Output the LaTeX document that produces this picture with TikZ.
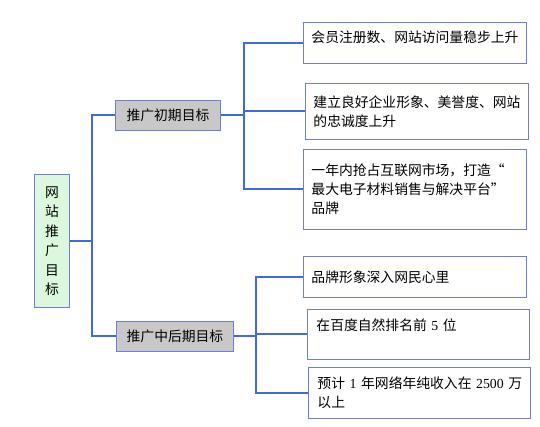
\documentclass[tikz,border=0pt]{standalone}
\usepackage{fontspec}
\setmainfont{Noto Sans CJK SC}
\newfontfamily\numfont{Liberation Serif}
\definecolor{linkblue}{RGB}{65,105,225}
\definecolor{boxline}{RGB}{110,125,225}
\definecolor{rootfill}{RGB}{219,247,221}
\definecolor{midfill}{RGB}{200,200,200}

\begin{document}
\begin{tikzpicture}[x = 1pt, y = -1pt,
	box/.style = {draw = boxline, line width = 0.9pt, anchor = north west, inner sep = 0pt},
	leaf/.style = {box, inner xsep = 8pt, align = left, text width = 207pt,
		font = {\fontsize{13.8}{19}\selectfont}},
	mid/.style = {box, fill = midfill, minimum height = 30pt,
		font = {\fontsize{13.8}{16}\selectfont}},
	link/.style = {draw = linkblue, line width = 2pt}]

	\useasboundingbox (0, 0) rectangle (540, 426);

	% Root and the two stages

	\node [box, fill = rootfill, minimum width = 35pt, minimum height = 133pt, align = center,
		font = {\fontsize{13.8}{19.5}\selectfont}] (root) at (34, 174) {网\\站\\推\\广\\目\\标};

	\node [mid, minimum width = 105pt] (early) at (115, 100) {推广初期目标};
	\node [mid, minimum width = 117pt] (late) at (116, 321) {推广中后期目标};

	% Goals of the early stage

	\node [leaf, minimum height = 41pt, text depth = 13pt] (goalA) at (303, 22) {会员注册数、网站访问量稳步上升};
	\node [leaf, minimum height = 56pt] (goalB) at (305, 83) {建立良好企业形象、美誉度、网站\\的忠诚度上升};
	\node [leaf, minimum height = 80pt] (goalC) at (303, 149) {一年内抢占互联网市场，打造“\\最大电子材料销售与解决平台”\\品牌};

	% Goals of the later stage

	\node [leaf, minimum height = 41pt] (goalD) at (303, 256) {品牌形象深入网民心里};
	\node [leaf, minimum height = 50pt, text depth = 20pt, text width = 204pt, inner xsep = 9pt] (goalE) at (307, 309) {在百度自然排名前 {\numfont 5} 位};
	\node [leaf, minimum height = 51pt, text width = 204pt, inner xsep = 9pt] (goalF) at (308, 367) {\mbox{预计 {\numfont 1} 年网络年纯收入在 {\numfont 2500} 万}\\以上};

	% Trunks

	\coordinate (trunkRoot) at (92, 0);
	\coordinate (trunkEarly) at (244, 0);
	\coordinate (trunkLate) at (256, 0);

	\draw [link] (root.east) -- (root.east -| trunkRoot);
	\draw [link] (early.west) -| (root.east -| trunkRoot) |- (late.west);

	\draw [link] (early.east) -- (early.east -| trunkEarly);
	\draw [link] (goalA.west) -| (early.east -| trunkEarly) |- (goalC.west);
	\draw [link] (goalB.west) -- (goalB.west -| trunkEarly);

	\draw [link] (late.east) -- (late.east -| trunkLate);
	\draw [link] (goalD.west) -| (late.east -| trunkLate) |- (goalF.west);
	\draw [link] (goalE.west) -- (goalE.west -| trunkLate);

\end{tikzpicture}
\end{document}
